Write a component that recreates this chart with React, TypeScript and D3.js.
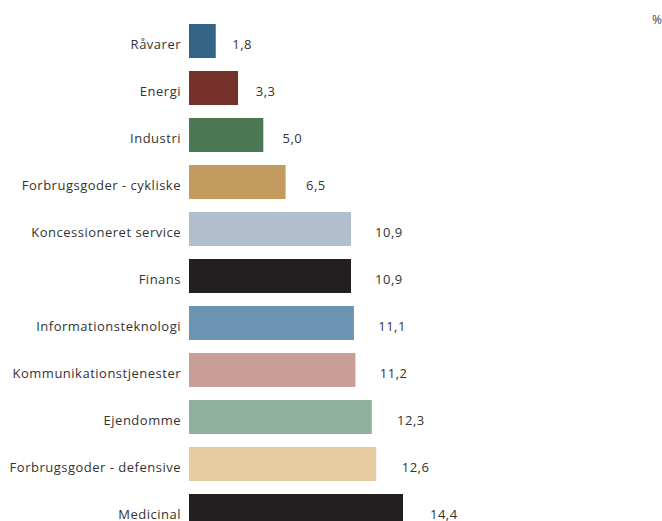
import React from "react";
import * as d3 from "d3";

const categories = [
  "Råvarer",
  "Energi",
  "Industri",
  "Forbrugsgoder - cykliske",
  "Koncessioneret service",
  "Finans",
  "Informationsteknologi",
  "Kommunikationstjenester",
  "Ejendomme",
  "Forbrugsgoder - defensive",
  "Medicinal",
];
const values = [1.8, 3.3, 5.0, 6.5, 10.9, 10.9, 11.1, 11.2, 12.3, 12.6, 14.4];
const colors = [
  "#336485",
  "#76312b",
  "#4c7753",
  "#c49b5f",
  "#b1bfcd",
  "#231f20",
  "#6c95b3",
  "#c99e96",
  "#8fb19e",
  "#e6cba1",
  "#231f20",
];
const unitLabel = "%";

const W = 662;
const H = 521;
const FONT = "'Open Sans', sans-serif";

export default function App() {
  const x = d3.scaleLinear().domain([0, 14.4]).range([189, 403]);
  const xLabel = d3.scaleLinear().domain([0, 14.4]).range([204, 430]);
  const step = 47;
  const y = d3
    .scaleBand<string>()
    .domain(categories)
    .range([24 - (13 / 47 / 2) * step, 24 - (13 / 47 / 2) * step + categories.length * step])
    .paddingInner(13 / 47)
    .paddingOuter(13 / 47 / 2);
  const fmt = (v: number) => d3.format(".1f")(v).replace(".", ",");

  return (
    <svg
      width={W}
      height={H}
      style={{ position: "absolute", left: 0, top: 0, background: "#fff" }}
    >
      <text x={662} y={24} textAnchor="end" fontFamily={FONT} fontSize={12} fill="#444">
        {unitLabel}
      </text>
      {categories.map((c, i) => {
        const y0 = y(c)!;
        const bw = y.bandwidth();
        return (
          <g key={c}>
            <rect x={x(0)} y={y0} width={x(values[i]) - x(0)} height={bw} fill={colors[i]} />
            <text
              x={x(0) - 8}
              y={y0 + bw / 2 + 8}
              textAnchor="end"
              fontFamily={FONT}
              fontSize={13}
              letterSpacing={0.5}
              fill="#333"
            >
              {c}
            </text>
            <text
              x={xLabel(values[i])}
              y={y0 + bw / 2 + 8}
              textAnchor="start"
              fontFamily={FONT}
              fontSize={13}
              letterSpacing={0.5}
              fill="#333"
            >
              {fmt(values[i])}
            </text>
          </g>
        );
      })}
    </svg>
  );
}
